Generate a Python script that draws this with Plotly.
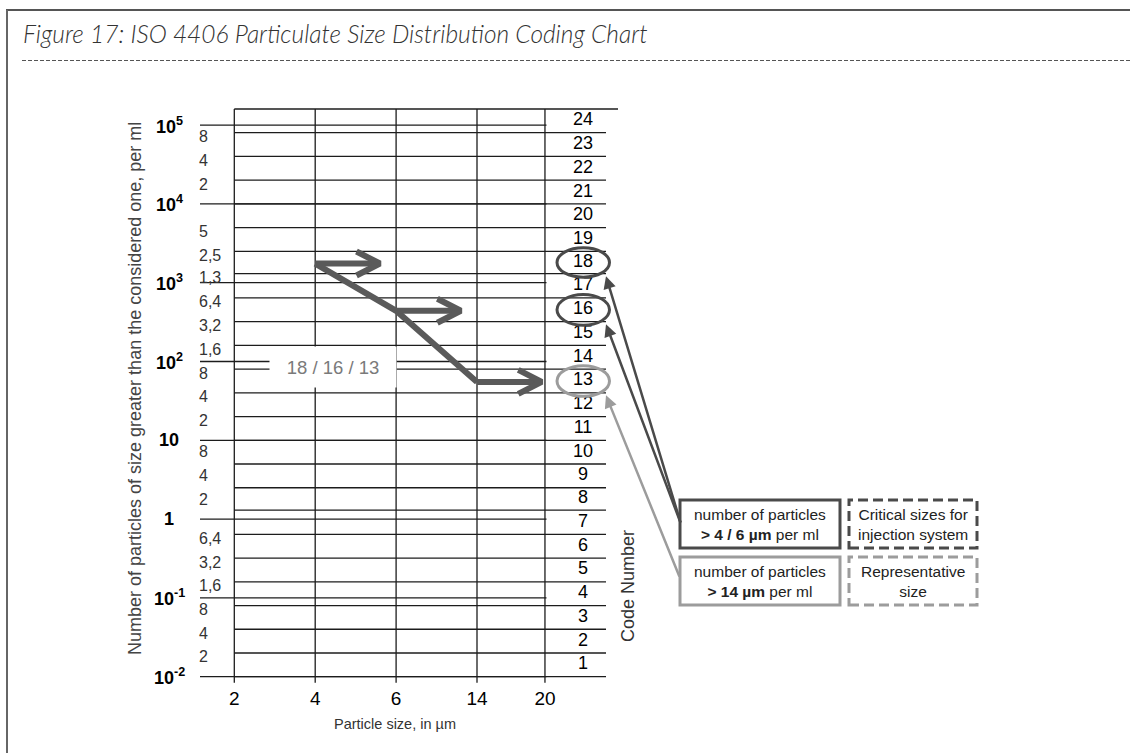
import math
import plotly.graph_objects as go

# ---------------------------------------------------------------- data
# Particle-size columns of the coding chart (µm)
particle_sizes = [2, 4, 6, 14, 20]

# ISO 4406 code numbers and the count-per-ml limits between them:
# code n covers code_bounds[n-1] .. code_bounds[n]
code_numbers = list(range(1, 25))
code_bounds = [0.01, 0.02, 0.04, 0.08, 0.16, 0.32, 0.64, 1.3, 2.5, 5, 10, 20, 40, 80,
               160, 320, 640, 1300, 2500, 5000, 10000, 20000, 40000, 80000, 160000]

# Left-hand count scale
decade_values = [1e5, 1e4, 1e3, 1e2, 10, 1, 0.1, 0.01]
decade_text = ["10<sup>5</sup>", "10<sup>4</sup>", "10<sup>3</sup>", "10<sup>2</sup>",
               "10", "1", "10<sup>-1</sup>", "10<sup>-2</sup>"]
minor_values = [80000, 40000, 20000, 5000, 2500, 1300, 640, 320, 160,
                80, 40, 20, 8, 4, 2, 0.64, 0.32, 0.16, 0.08, 0.04, 0.02]
minor_text = ["8", "4", "2", "5", "2,5", "1,3", "6,4", "3,2", "1,6",
              "8", "4", "2", "8", "4", "2", "6,4", "3,2", "1,6", "8", "4", "2"]

# Worked example: particles per ml larger than 4, 6 and 14 µm
sample_sizes = [4, 6, 14]
sample_counts = [1750, 440, 55]
critical_sizes = [4, 6]          # sizes relevant for the injection system
representative_sizes = [14]

# ---------------------------------------------------------------- layout geometry (px)
W, H = 1130, 753
L, R, T, B = 200, 620, 105, 685          # plot area
TOP_PX, BOT_PX = 109.0, 676.7            # rows of the highest / lowest code limit
LOG_TOP, LOG_BOT = math.log10(code_bounds[-1]), math.log10(code_bounds[0])
DEC = (BOT_PX - TOP_PX) / (LOG_TOP - LOG_BOT)   # pixels per decade
y_range = [LOG_BOT - (B - BOT_PX) / DEC, LOG_TOP + (TOP_PX - T) / DEC]

X0_PX, UNIT = 234.3, 80.9                # first size column and column pitch
col_pos = [0, 1, 2, 3, 3.84]             # horizontal slot of each size column
x_range = [(L - X0_PX) / UNIT, (R - X0_PX) / UNIT]
col_of = dict(zip(particle_sizes, col_pos))

FONT = "Liberation Sans, Arial, sans-serif"
LINE = "#1c1c1c"
ARROW = "#5a5a5a"
DARK = "#4a4a4a"
LIGHT = "#9c9c9c"


def xd(px):            # pixel column -> x data
    return (px - X0_PX) / UNIT


def xp(px):            # pixel column -> paper x
    return (px - L) / (R - L)


def yp(py):            # pixel row -> paper y
    return (B - py) / (B - T)


def v2py(v):           # count -> pixel row
    return TOP_PX + (LOG_TOP - math.log10(v)) * DEC


def shift(v, px):      # move a count up the log scale by px pixels
    return v * 10 ** (px / DEC)


def code_of(count):
    for i in range(len(code_bounds) - 1):
        if code_bounds[i] <= count < code_bounds[i + 1]:
            return code_numbers[i]
    return None


def label(x, y, text, size, color="#333333", xanchor="center", yanchor="middle",
          xref="paper", yref="paper", **kw):
    fig.add_annotation(xref=xref, yref=yref, x=x, y=y, text=text, showarrow=False,
                       xanchor=xanchor, yanchor=yanchor,
                       font=dict(family=kw.pop("family", FONT), size=size, color=color,
                                 **kw.pop("fontextra", {})), **kw)


sample_codes = [code_of(c) for c in sample_counts]

fig = go.Figure()

# ---------------------------------------------------------------- grid
gx, gy = [], []


def seg(x0, x1, y0, y1):
    gx.extend([x0, x1, None])
    gy.extend([y0, y1, None])


for c in col_pos:
    seg(c, c, code_bounds[-1], shift(code_bounds[0], -6))
for v in decade_values:
    seg(xd(L), xd(546.5), v, v)
for v in code_bounds:
    seg(0, xd(618 if v == code_bounds[-1] else 606), v, v)

fig.add_trace(go.Scatter(x=gx, y=gy, mode="lines", hoverinfo="skip",
                         line=dict(color=LINE, width=1.3)))

# ---------------------------------------------------------------- worked example path
path_x = [col_of[s] for s in sample_sizes]
fig.add_trace(go.Scatter(x=path_x, y=sample_counts, mode="lines", hoverinfo="skip",
                         line=dict(color=ARROW, width=6)))
ax_, ay_ = [], []
for c, v in zip(path_x, sample_counts):
    tip = c + 0.8
    ax_ += [c, tip, None, tip - 0.29, tip, tip - 0.29, None]
    ay_ += [v, v, None, shift(v, 12), v, shift(v, -12), None]
fig.add_trace(go.Scatter(x=ax_, y=ay_, mode="lines", hoverinfo="skip",
                         line=dict(color=ARROW, width=6)))

# ---------------------------------------------------------------- code number column
mids = [math.sqrt(code_bounds[i] * code_bounds[i + 1]) for i in range(len(code_numbers))]
fig.add_trace(go.Scatter(x=[xd(583)] * len(code_numbers), y=mids, mode="text",
                         text=[str(n) for n in code_numbers], hoverinfo="skip",
                         textfont=dict(family=FONT, size=18, color="black")))

for code, size in zip(sample_codes, sample_sizes):
    col = DARK if size in critical_sizes else LIGHT
    lo, hi = code_bounds[code - 1], code_bounds[code]
    fig.add_shape(type="circle", xref="x", yref="y", x0=xd(557), x1=xd(609.5),
                  y0=shift(lo, -3.5), y1=shift(hi, 3.5), line=dict(color=col, width=3))
    tip_x, tip_y = 606, v2py(lo) + 2.5
    tail = (681, 524) if size in critical_sizes else (680, 578)
    fig.add_annotation(xref="paper", yref="paper", x=xp(tip_x), y=yp(tip_y), text="",
                       showarrow=True, ax=tail[0] - tip_x, ay=tail[1] - tip_y,
                       arrowhead=2, arrowsize=1, arrowwidth=2.5, arrowcolor=col, standoff=0)

# result label on the grid
label(xp(332.5), yp(367), " / ".join(str(c) for c in sample_codes), 18.5, "#7a7a7a",
      width=124, height=38, bgcolor="white")

# ---------------------------------------------------------------- count scale labels
for v, t in zip(decade_values, decade_text):
    label(xp(169), math.log10(v), f"<b>{t}</b>", 18, "black", yref="y")
for v, t in zip(minor_values, minor_text):
    label(xp(197), math.log10(v), t, 16, "#333333", xanchor="left", yref="y", yshift=-4)

# axis titles
label(xp(135), yp(389), "Number of particles of size greater than the considered one, per ml",
      18, "#444444", textangle=-90)
label(xp(628), yp(586), "Code Number", 18, "#333333", textangle=-90)
label(xp(395), yp(724), "Particle size, in µm", 14.5, "#333333")

# ---------------------------------------------------------------- explanation boxes
crit_txt = " / ".join(str(s) for s in critical_sizes)
rep_txt = " / ".join(str(s) for s in representative_sizes)
boxes = [
    (680, 840, 500, 548, "solid", DARK, f"number of particles<br><b>&gt; {crit_txt} µm</b> per ml"),
    (849, 977, 500, 548, "10px,5px", DARK, "Critical sizes for<br>injection system"),
    (680, 840, 557, 605, "solid", LIGHT, f"number of particles<br><b>&gt; {rep_txt} µm</b> per ml"),
    (849, 977, 557, 605, "10px,5px", LIGHT, "Representative<br>size"),
]
for x0, x1, y0, y1, dash, col, txt in boxes:
    fig.add_shape(type="rect", xref="paper", yref="paper", x0=xp(x0), x1=xp(x1),
                  y0=yp(y1), y1=yp(y0), line=dict(color=col, width=3, dash=dash))
    label(xp((x0 + x1) / 2), yp((y0 + y1) / 2), txt, 15.5, "#222222", align="center")

# ---------------------------------------------------------------- page frame and caption
fig.add_shape(type="line", xref="paper", yref="paper", x0=xp(6), x1=xp(W), y0=yp(10), y1=yp(10),
              line=dict(color="#555555", width=2))
fig.add_shape(type="line", xref="paper", yref="paper", x0=xp(7), x1=xp(7), y0=yp(10), y1=yp(H),
              line=dict(color="#666666", width=2))
fig.add_shape(type="line", xref="paper", yref="paper", x0=xp(22), x1=xp(W), y0=yp(60.5), y1=yp(60.5),
              line=dict(color="#555555", width=1, dash="4px,2px"))
label(xp(21), yp(34), "Figure 17: ISO 4406 Particulate Size Distribution Coding Chart", 24.5,
      "#333333", xanchor="left", family="Lato, Open Sans, sans-serif",
      fontextra=dict(style="italic", weight=300))

fig.update_layout(
    width=W, height=H, autosize=False,
    margin=dict(l=L, r=W - R, t=T, b=H - B, pad=0),
    paper_bgcolor="white", plot_bgcolor="white",
    showlegend=False,
    xaxis=dict(range=x_range, showgrid=False, zeroline=False, showline=False, ticks="",
               tickvals=col_pos, ticktext=[str(s) for s in particle_sizes],
               tickfont=dict(family=FONT, size=19, color="black")),
    yaxis=dict(type="log", range=y_range, showgrid=False, zeroline=False, showline=False,
               ticks="", showticklabels=False),
)

fig.write_html("out.html")
